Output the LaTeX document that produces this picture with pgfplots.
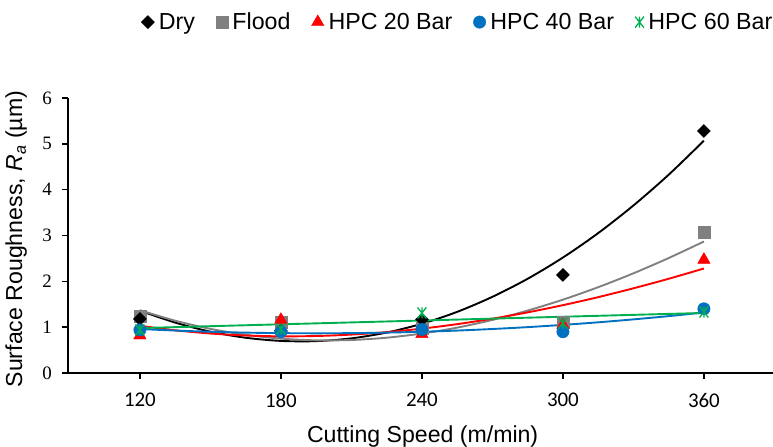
\documentclass[border=0pt]{standalone}
\usepackage{pgfplots}
\pgfplotsset{compat=1.18}
\usepackage{fontspec}
\setmainfont{Liberation Sans}
\newfontfamily\tickserif{Liberation Serif}
\newfontfamily\ticksans{Carlito}

\definecolor{cDry}{HTML}{000000}
\definecolor{cFlood}{HTML}{808080}
\definecolor{cHPCa}{HTML}{FF0000}
\definecolor{cHPCb}{HTML}{0070C0}
\definecolor{cHPCc}{HTML}{00B050}

% asterisk-like marker: a cross with a vertical stroke
\pgfdeclareplotmark{xstar}{%
  \pgfpathmoveto{\pgfqpoint{-0.8\pgfplotmarksize}{-\pgfplotmarksize}}%
  \pgfpathlineto{\pgfqpoint{0.8\pgfplotmarksize}{\pgfplotmarksize}}%
  \pgfpathmoveto{\pgfqpoint{-0.8\pgfplotmarksize}{\pgfplotmarksize}}%
  \pgfpathlineto{\pgfqpoint{0.8\pgfplotmarksize}{-\pgfplotmarksize}}%
  \pgfpathmoveto{\pgfqpoint{0pt}{-\pgfplotmarksize}}%
  \pgfpathlineto{\pgfqpoint{0pt}{\pgfplotmarksize}}%
  \pgfusepathqstroke}

\pgfplotsset{
  markonly/.style={only marks,
    legend image code/.code={\draw[##1] plot[only marks] coordinates {(0bp,0bp)};}},
  floodmarks/.style={markonly, mark=square*, mark size=6bp,
    mark options={fill=cFlood, draw=cFlood}, color=cFlood},
}

\begin{document}
\begin{tikzpicture}
\path[use as bounding box] (0,0) rectangle (773bp,447bp);
\begin{axis}[
  at={(68bp,74bp)}, anchor=south west,
  scale only axis, width=705bp, height=275bp,
  xmin=89.4, xmax=389.4, ymin=0, ymax=6,
  axis x line*=bottom, axis y line*=left,
  axis line style={line width=1.6bp, black},
  tick align=outside, major tick length=6bp,
  every tick/.style={line width=1.6bp, black},
  xtick={120,180,240,300,360},
  xticklabels={120,180,240,300,360},
  ytick={0,1,2,3,4,5,6},
  yticklabels={0,1,2,3,4,5,6},
  xticklabel style={font=\ticksans\fontsize{21}{21}\selectfont, inner sep=0pt, yshift=-14bp},
  yticklabel style={font=\tickserif\fontsize{19}{19}\selectfont, inner sep=0pt, xshift=-10bp},
  xlabel={Cutting Speed (m/min)},
  ylabel={Surface Roughness, \textit{R}\textsubscript{\textit{a}} (µm)},
  label style={font=\fontsize{23.2}{23.2}\selectfont},
  xlabel style={at={(axis description cs:0.503,-0.252)}, anchor=base},
  ylabel style={at={(axis description cs:-0.0652,0.487)}, anchor=base},
  legend columns=-1,
  legend style={draw=none, fill=none, at={(0.999,1.276)}, anchor=east,
    inner sep=0pt, outer sep=0pt,
    font=\fontsize{23.3}{23.3}\selectfont,
    nodes={inner sep=0pt},
    /tikz/every odd column/.append style={column sep=4.5bp},
    /tikz/every even column/.append style={column sep=21bp}},
  legend cell align=left,
  clip=false,
]
% measured roughness (flood squares sit beneath the dry diamonds)
\addplot[floodmarks, forget plot]
  coordinates {(120,1.24) (180,1.11) (240,0.97) (300,1.10) (360,3.08)};
\addplot[markonly, mark=square*, mark size=4.6bp, mark options={rotate=45, fill=cDry, draw=cDry}, color=cDry]
  coordinates {(120,1.18) (180,0.92) (240,1.17) (300,2.14) (360,5.28)};
\addlegendentry{Dry}
\addlegendimage{floodmarks}
\addlegendentry{Flood}
\addplot[markonly, mark=triangle*, mark size=7.2bp, mark options={fill=cHPCa, draw=cHPCa}, color=cHPCa]
  coordinates {(120,0.82) (180,1.16) (240,0.85) (300,1.05) (360,2.47)};
\addlegendentry{HPC 20 Bar}
\addplot[markonly, mark=*, mark size=6.2bp, mark options={fill=cHPCb, draw=cHPCb}, color=cHPCb]
  coordinates {(120,0.94) (180,0.90) (240,0.95) (300,0.90) (360,1.40)};
\addlegendentry{HPC 40 Bar}
\addplot[markonly, mark=xstar, mark size=5.5bp, mark options={draw=cHPCc, line width=1.3bp}, color=cHPCc]
  coordinates {(120,0.94) (180,0.96) (240,1.31) (300,1.09) (360,1.33)};
\addlegendentry{HPC 60 Bar}

% trendlines
\addplot[forget plot, smooth, no marks, line width=1.9bp, color=cDry] coordinates {
  (120,1.360) (135,1.100) (150,0.902) (165,0.769) (180,0.700) (195,0.695)
  (210,0.756) (225,0.882) (240,1.075) (255,1.334) (270,1.662) (285,2.056)
  (300,2.519) (315,3.052) (330,3.655) (345,4.326) (360,5.069)};
\addplot[forget plot, smooth, no marks, line width=1.9bp, color=cFlood] coordinates {
  (120,1.370) (135,1.141) (150,0.963) (165,0.833) (180,0.750) (195,0.713)
  (210,0.720) (225,0.770) (240,0.861) (255,0.990) (270,1.158) (285,1.362)
  (300,1.600) (315,1.872) (330,2.175) (345,2.508) (360,2.869)};
\addplot[forget plot, smooth, no marks, line width=1.9bp, color=cHPCa] coordinates {
  (120,1.030) (135,0.932) (150,0.862) (165,0.818) (180,0.800) (195,0.807)
  (210,0.838) (225,0.892) (240,0.968) (255,1.066) (270,1.185) (285,1.323)
  (300,1.480) (315,1.655) (330,1.848) (345,2.056) (360,2.280)};
\addplot[forget plot, smooth, no marks, line width=1.9bp, color=cHPCb] coordinates {
  (120,0.960) (135,0.926) (150,0.900) (165,0.881) (180,0.870) (195,0.866)
  (210,0.870) (225,0.881) (240,0.900) (255,0.926) (270,0.960) (285,1.001)
  (300,1.050) (315,1.106) (330,1.170) (345,1.241) (360,1.320)};
\addplot[forget plot, no marks, line width=1.9bp, color=cHPCc] coordinates {
  (120,0.980) (240,1.145) (360,1.310)};
\end{axis}
\end{tikzpicture}
\end{document}
